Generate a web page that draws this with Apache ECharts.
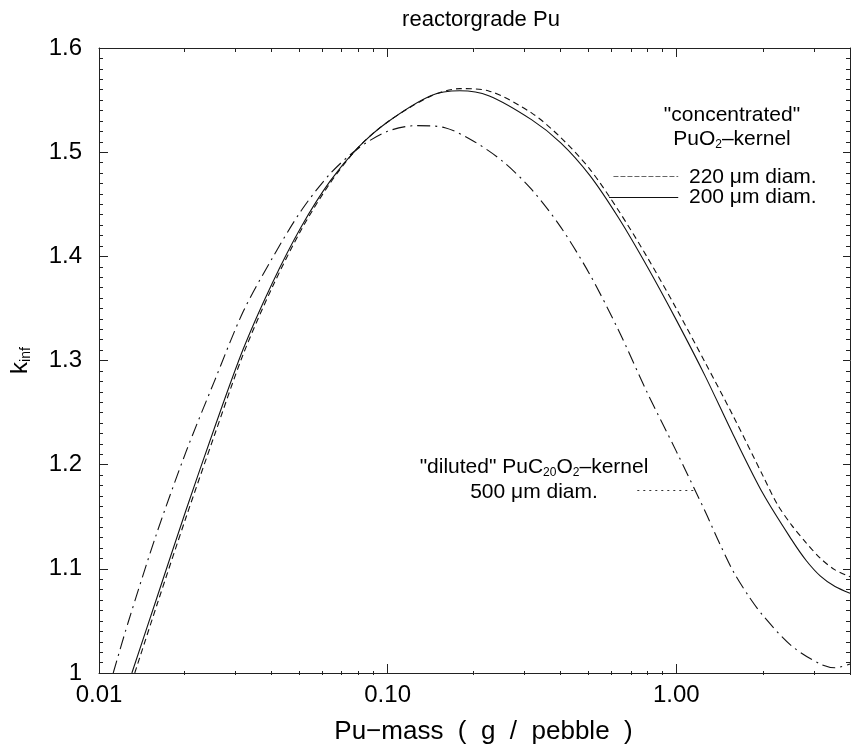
<!DOCTYPE html>
<html>
<head>
<meta charset="utf-8">
<script src="https://cdn.jsdelivr.net/npm/echarts@6/dist/echarts.min.js"></script>
<style>
  html, body { margin: 0; padding: 0; background: #fff; }
  #chart { width: 851px; height: 750px; }
</style>
</head>
<body>
<div id="chart"></div>
<script>
// ---------------- data ----------------
const chartTitle = 'reactorgrade Pu';
const xAxisName = 'Pu\u2212mass  (  g  /  pebble  )';

// 200 µm diam. (concentrated PuO2 kernel) – solid
const mass200 = [0.013, 0.0159, 0.02, 0.0251, 0.0316, 0.0398, 0.0501, 0.0631, 0.0794, 0.1, 0.141, 0.178, 0.224, 0.316, 0.398, 0.501, 0.631, 0.794, 1.0, 1.26, 1.58, 2.0, 2.51, 2.82, 3.16, 3.55, 4.0];
const kinf200 = [1.000, 1.073, 1.156, 1.235, 1.311, 1.374, 1.428, 1.472, 1.505, 1.529, 1.5542, 1.559, 1.5542, 1.531, 1.509, 1.478, 1.437, 1.390, 1.339, 1.285, 1.228, 1.172, 1.128, 1.108, 1.093, 1.083, 1.0766];

// 220 µm diam. (concentrated PuO2 kernel) – dashed
const mass220 = [0.0133, 0.0159, 0.02, 0.0251, 0.0316, 0.0398, 0.0501, 0.0631, 0.0794, 0.1, 0.141, 0.178, 0.224, 0.316, 0.398, 0.501, 0.631, 0.794, 1.0, 1.26, 1.58, 2.0, 2.24, 2.51, 2.82, 3.16, 3.55, 4.0];
const kinf220 = [1.000, 1.066, 1.149, 1.228, 1.306, 1.370, 1.425, 1.470, 1.505, 1.529, 1.5537, 1.561, 1.5588, 1.5375, 1.514, 1.484, 1.444, 1.399, 1.350, 1.298, 1.246, 1.189, 1.162, 1.142, 1.125, 1.110, 1.099, 1.0925];

// 500 µm diam. (diluted PuC20O2 kernel) – dash-dot
const mass500 = [0.0112, 0.0126, 0.0158, 0.02, 0.0251, 0.0316, 0.0398, 0.0501, 0.0631, 0.0794, 0.1, 0.126, 0.158, 0.2, 0.251, 0.316, 0.398, 0.501, 0.631, 0.794, 1.0, 1.26, 1.41, 1.58, 1.78, 2.0, 2.51, 3.16, 3.55, 4.0];
const kinf500 = [1.000, 1.048, 1.133, 1.212, 1.280, 1.347, 1.398, 1.4435, 1.479, 1.504, 1.520, 1.5255, 1.5235, 1.510, 1.491, 1.464, 1.428, 1.383, 1.329, 1.269, 1.213, 1.155, 1.125, 1.097, 1.074, 1.055, 1.026, 1.0085, 1.005, 1.0086];

// axis ticks
const xMin = 0.01, xMax = 4;
const xMajorTicks = [0.01, 0.1, 1];
const yMin = 1, yMax = 1.6, yStep = 0.1;

// annotation texts
const labelConc1 = '"concentrated"';
const labelConc2 = '{a|PuO}{s|2}{a|\u2013kernel}';
const label220 = '220 \u03bcm diam.';
const label200 = '200 \u03bcm diam.';
const labelDil1 = '{a|"diluted" PuC}{s|20}{a|O}{s|2}{a|\u2013kernel}';
const label500 = '500 \u03bcm diam.';

// ---------------- build ----------------
const xMinorTicks = [];
for (let d = 0.01; d < xMax; d *= 10) {
  for (let m = 2; m <= 9; m++) {
    const v = +(m * d).toPrecision(6);
    if (v <= xMax) xMinorTicks.push(v);
  }
}
const zip = (xs, ys) => xs.map((x, i) => [x, ys[i]]);

const FONT = "'Liberation Sans', Arial, Helvetica, sans-serif";
const INK = '#111';

const chart = echarts.init(document.getElementById('chart'), null, { renderer: 'canvas' });

const gridBox = { left: 97, right: 1, top: 48, bottom: 75 };

function logAxis(extra) {
  return Object.assign({
    type: 'log', logBase: 10, min: xMin, max: xMax,
    axisLine: { show: true, onZero: false, lineStyle: { color: '#222', width: 1 } },
    splitLine: { show: false },
    minorTick: { show: false },
    axisLabel: { show: false }
  }, extra);
}

function valAxis(extra) {
  return Object.assign({
    type: 'value', min: yMin, max: yMax, interval: yStep,
    axisLine: { show: true, onZero: false, lineStyle: { color: '#222', width: 1 } },
    axisTick: { show: true, inside: true, length: 9, lineStyle: { color: '#222' } },
    minorTick: { show: true, splitNumber: 10, length: 4, lineStyle: { color: '#222' } },
    splitLine: { show: false },
    minorSplitLine: { show: false },
    axisLabel: { show: false }
  }, extra);
}

const option = {
  animation: false,
  backgroundColor: '#fff',
  title: {
    text: chartTitle,
    left: 476, top: 4, textAlign: 'center',
    textStyle: { fontFamily: FONT, fontSize: 22, fontWeight: 'normal', color: '#000' }
  },
  grid: [
    Object.assign({}, gridBox),
    Object.assign({}, gridBox)
  ],
  xAxis: [
    logAxis({
      gridIndex: 0, position: 'bottom',
      axisTick: { show: true, inside: true, length: 9, customValues: xMajorTicks, lineStyle: { color: '#222' } },
      axisLabel: {
        show: true, customValues: xMajorTicks, margin: 10,
        formatter: v => Number(v).toFixed(2),
        fontFamily: FONT, fontSize: 24, color: '#000'
      },
      name: xAxisName, nameLocation: 'middle', nameGap: 46,
      nameTextStyle: { fontFamily: FONT, fontSize: 26, color: '#000', padding: [0, 0, 0, 18] }
    }),
    logAxis({
      gridIndex: 0, position: 'top',
      axisTick: { show: true, inside: true, length: 9, customValues: xMajorTicks, lineStyle: { color: '#222' } }
    }),
    logAxis({
      gridIndex: 1, position: 'bottom',
      axisLine: { show: false },
      axisTick: { show: true, inside: true, length: 4, customValues: xMinorTicks, lineStyle: { color: '#222' } }
    }),
    logAxis({
      gridIndex: 1, position: 'top',
      axisLine: { show: false },
      axisTick: { show: true, inside: true, length: 4, customValues: xMinorTicks, lineStyle: { color: '#222' } }
    })
  ],
  yAxis: [
    valAxis({
      gridIndex: 0, position: 'left',
      axisLabel: { show: true, margin: 17, fontFamily: FONT, fontSize: 24, color: '#000' },
      name: '{k|k}{s|inf}', nameLocation: 'middle', nameRotate: 90, nameGap: 66,
      nameTextStyle: {
        fontFamily: FONT, color: '#000',
        rich: {
          k: { fontFamily: FONT, fontSize: 24, lineHeight: 26, color: '#000' },
          s: { fontFamily: FONT, fontSize: 14, lineHeight: 14, color: '#000', verticalAlign: 'bottom' }
        }
      }
    }),
    valAxis({ gridIndex: 0, position: 'right', axisTick: { show: true, inside: true, length: 7, lineStyle: { color: '#222' } } }),
    valAxis({ gridIndex: 1, show: false })
  ],
  series: [
    {
      name: '220 μm diam.', type: 'line', xAxisIndex: 0, yAxisIndex: 0,
      data: zip(mass220, kinf220), showSymbol: false, smooth: 0.3,
      lineStyle: { color: INK, width: 1.1, type: [6, 4] },
      markLine: {
        silent: true, symbol: ['none', 'none'], label: { show: false },
        lineStyle: { color: '#666', width: 1, type: [5, 2] },
        data: [[{ coord: [0.606, 1.4766] }, { coord: [1.016, 1.4766] }]]
      }
    },
    {
      name: '200 μm diam.', type: 'line', xAxisIndex: 0, yAxisIndex: 0,
      data: zip(mass200, kinf200), showSymbol: false, smooth: 0.3,
      lineStyle: { color: INK, width: 1.1, type: 'solid' },
      markLine: {
        silent: true, symbol: ['none', 'none'], label: { show: false },
        lineStyle: { color: INK, width: 1, type: 'solid' },
        data: [[{ coord: [0.585, 1.4565] }, { coord: [1.016, 1.4565] }]]
      }
    },
    {
      name: '500 μm diam.', type: 'line', xAxisIndex: 0, yAxisIndex: 0,
      data: zip(mass500, kinf500), showSymbol: false, smooth: 0.3,
      lineStyle: { color: INK, width: 1.1, type: [13, 5, 2, 5] },
      markLine: {
        silent: true, symbol: ['none', 'none'], label: { show: false },
        lineStyle: { color: '#333', width: 1, type: [2, 4] },
        data: [[{ coord: [0.733, 1.175] }, { coord: [1.17, 1.175] }]]
      }
    }
  ],
  graphic: [
    { type: 'text', x: 732, y: 115, silent: true,
      style: { text: labelConc1, font: '21px ' + FONT, fill: '#000', align: 'center', verticalAlign: 'middle', textAlign: 'center', textVerticalAlign: 'middle' } },
    { type: 'text', x: 732, y: 139, silent: true,
      style: { text: labelConc2, fill: '#000', align: 'center', verticalAlign: 'middle', textAlign: 'center', textVerticalAlign: 'middle',
        rich: { a: { fontFamily: FONT, fontSize: 21, lineHeight: 24, fill: '#000' }, s: { fontFamily: FONT, fontSize: 12, lineHeight: 12, fill: '#000', verticalAlign: 'bottom' } } } },
    { type: 'text', x: 689, y: 177, silent: true,
      style: { text: label220, font: '21px ' + FONT, fill: '#000', align: 'left', verticalAlign: 'middle', textAlign: 'left', textVerticalAlign: 'middle' } },
    { type: 'text', x: 689, y: 197, silent: true,
      style: { text: label200, font: '21px ' + FONT, fill: '#000', align: 'left', verticalAlign: 'middle', textAlign: 'left', textVerticalAlign: 'middle' } },
    { type: 'text', x: 534, y: 467, silent: true,
      style: { text: labelDil1, fill: '#000', align: 'center', verticalAlign: 'middle', textAlign: 'center', textVerticalAlign: 'middle',
        rich: { a: { fontFamily: FONT, fontSize: 21, lineHeight: 24, fill: '#000' }, s: { fontFamily: FONT, fontSize: 12, lineHeight: 12, fill: '#000', verticalAlign: 'bottom' } } } },
    { type: 'text', x: 534, y: 492, silent: true,
      style: { text: label500, font: '21px ' + FONT, fill: '#000', align: 'center', verticalAlign: 'middle', textAlign: 'center', textVerticalAlign: 'middle' } }
  ]
};

chart.setOption(option);
</script>
</body>
</html>
